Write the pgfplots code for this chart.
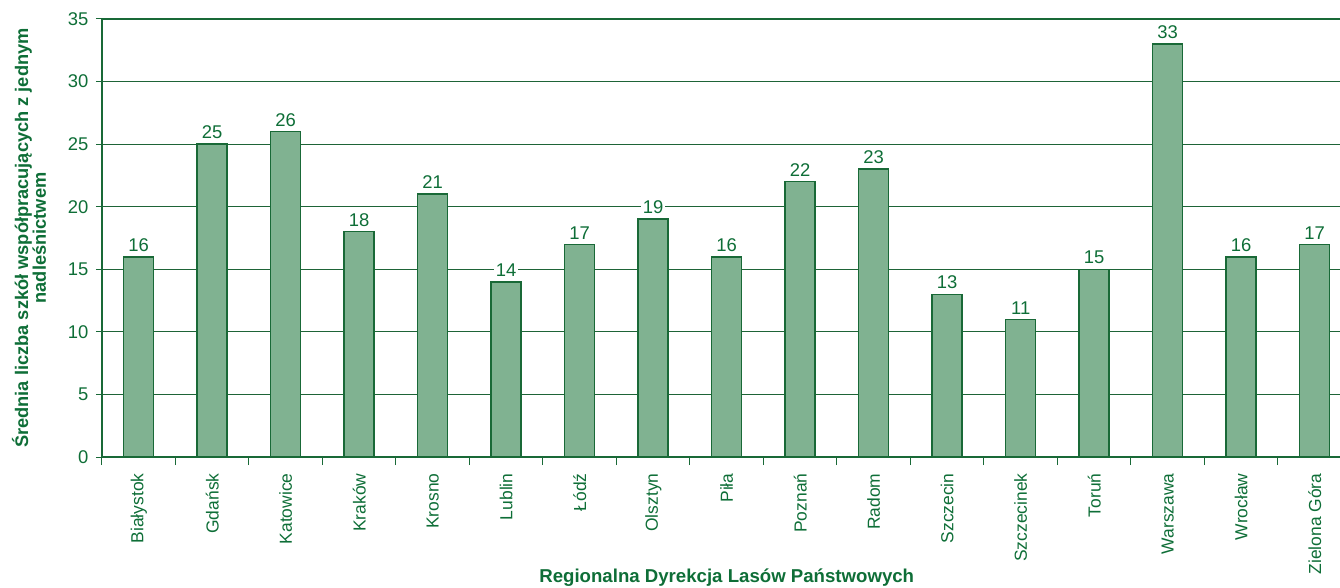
\documentclass[border=0pt]{standalone}
\usepackage{fontspec}
\setmainfont{Liberation Sans}
\usepackage{pgfplots}
\pgfplotsset{compat=1.18}
\definecolor{tgreen}{RGB}{14,110,55}
\definecolor{bfill}{RGB}{128,178,145}
\definecolor{bline}{RGB}{25,105,55}
\definecolor{gline}{RGB}{30,100,55}
\begin{document}
\begin{tikzpicture}
\begin{axis}[
 at={(0,0)}, anchor=south west,
 scale only axis, width=1249.5bp, height=438bp,
 ymin=0, ymax=35, ytick={0,5,...,35},
 xmin=-0.5, xmax=16.5,
 xtick={0,...,16},
 xticklabels={Białystok,Gdańsk,Katowice,Kraków,Krosno,Lublin,Łódź,Olsztyn,Piła,Poznań,Radom,Szczecin,Szczecinek,Toruń,Warszawa,Wrocław,Zielona Góra},
 minor xtick={-0.5,0.5,...,16.5},
 major x tick style={draw=none},
 minor x tick style={draw=bline, line width=1bp},
 minor tick length=8bp,
 major tick length=6bp,
 tick align=outside,
 tick pos=left,
 y tick style={draw=bline, line width=1bp},
 axis line style={draw=bline, line width=1.6bp},
 ymajorgrids,
 major grid style={draw=gline, line width=0.8bp},
 /pgf/number format/assume math mode=true,
 x tick label style={yshift=-7bp, rotate=90, anchor=east, font=\fontsize{17.5}{20}\selectfont, text=tgreen},
 y tick label style={xshift=-4bp, font=\fontsize{18.5}{20}\selectfont, text=tgreen},
 ybar, bar width=30bp,
 nodes near coords,
 every node near coord/.append style={yshift=3bp, fill=white, inner sep=1.5bp, text=tgreen, font=\fontsize{18.5}{20}\selectfont},
 ylabel={Średnia liczba szkół współpracujących z jednym\\nadleśnictwem},
 ylabel style={at={(axis description cs:0,0.5)}, anchor=center, yshift=73bp, font=\bfseries\fontsize{18.3}{18}\selectfont, text=tgreen, align=center},
 xlabel={Regionalna Dyrekcja Lasów Państwowych},
 xlabel style={at={(axis description cs:0.5,0)}, anchor=center, yshift=-121bp, font=\bfseries\fontsize{18.7}{19}\selectfont, text=tgreen},
]
\addplot[fill=bfill, draw=bline, line width=1.5bp] coordinates {
(0,16) (1,25) (2,26) (3,18) (4,21) (5,14) (6,17) (7,19) (8,16) (9,22) (10,23) (11,13) (12,11) (13,15) (14,33) (15,16) (16,17)};
\end{axis}
\pgfresetboundingbox
\path[use as bounding box] (-102bp,-131bp) rectangle (1238bp,457bp);
\end{tikzpicture}
\end{document}
